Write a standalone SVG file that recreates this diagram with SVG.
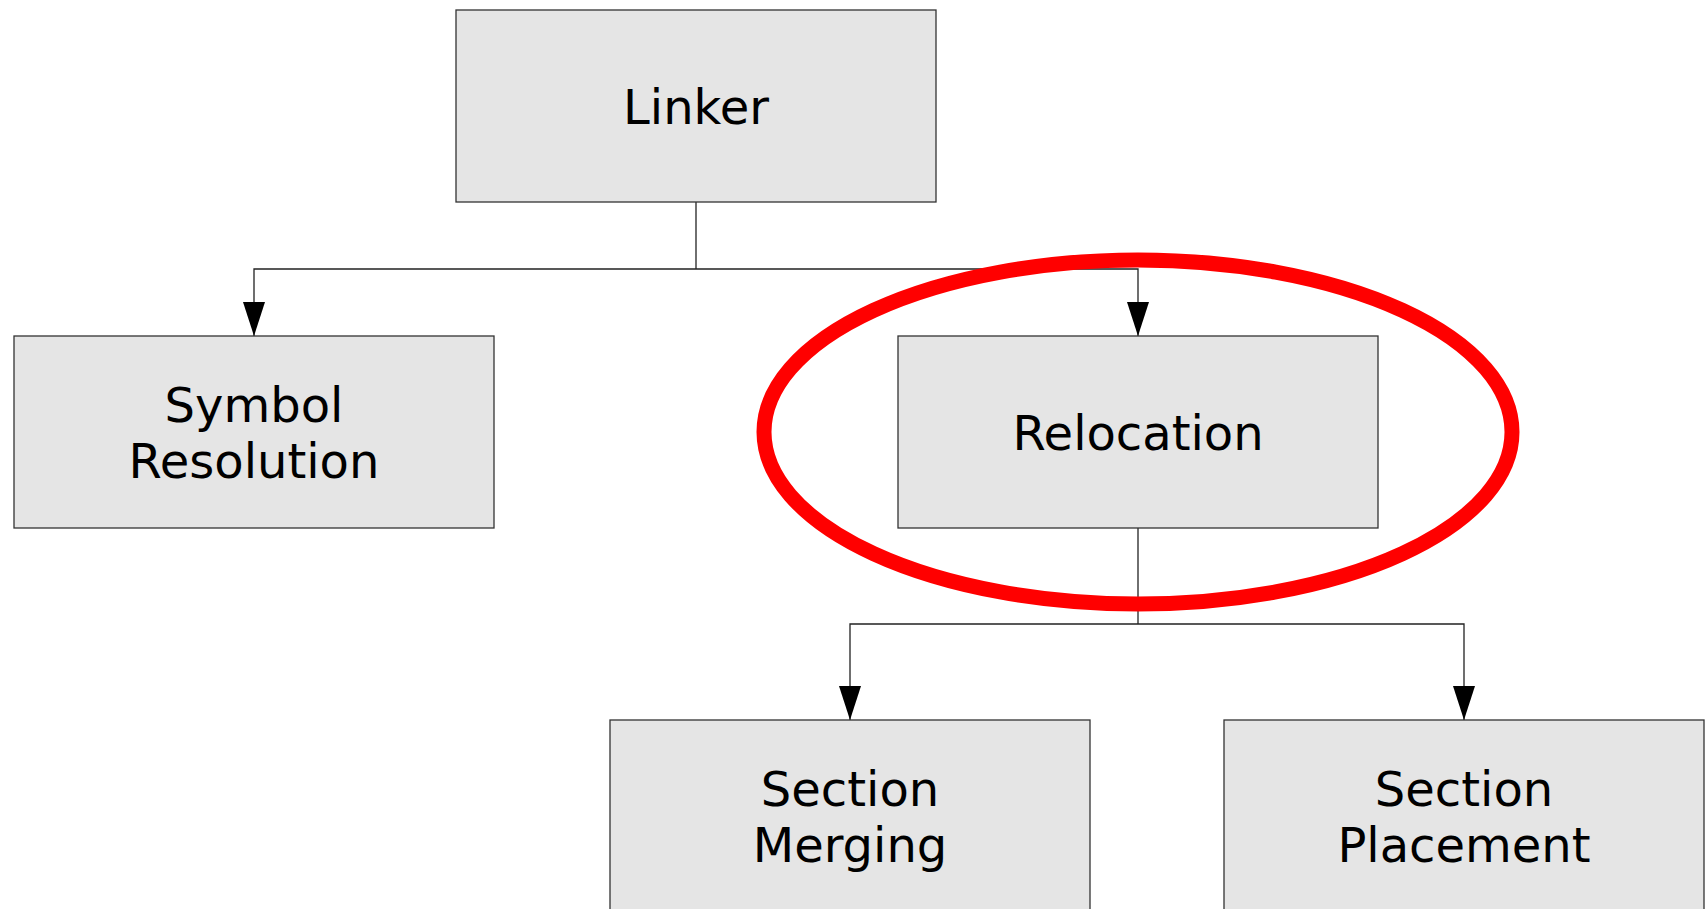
<svg xmlns="http://www.w3.org/2000/svg" width="1706" height="909" viewBox="0 0 1706 909">
  <style>
    .box { fill: #e5e5e5; stroke: #333333; stroke-width: 1.3; }
    .label { font-family: "DejaVu Sans", "Liberation Sans", sans-serif; font-size: 48px; fill: #000000; text-anchor: middle; }
    .wire { fill: none; stroke: #222222; stroke-width: 1.3; }
    .highlight { fill: none; stroke: #ff0000; stroke-width: 15; }
  </style>
  <defs>
    <marker id="arrow" markerUnits="userSpaceOnUse" markerWidth="34" markerHeight="22" refX="34" refY="11" orient="auto" viewBox="0 0 34 22">
      <path d="M0,0 L34,11 L0,22 Z" fill="#000000"/>
    </marker>
  </defs>
  <rect width="1706" height="909" fill="#ffffff"/>

  <g id="connectors">
    <path class="wire" d="M696,202 V269"/>
    <path class="wire" d="M696,269 H254 V336" marker-end="url(#arrow)"/>
    <path class="wire" d="M696,269 H1138 V336" marker-end="url(#arrow)"/>
    <path class="wire" d="M1138,528 V624"/>
    <path class="wire" d="M1138,624 H850 V720" marker-end="url(#arrow)"/>
    <path class="wire" d="M1138,624 H1464 V720" marker-end="url(#arrow)"/>
  </g>

  <g id="node-linker">
    <rect class="box" x="456" y="10" width="480" height="192"/>
    <text class="label" x="696" y="124">Linker</text>
  </g>

  <g id="node-symbol-resolution">
    <rect class="box" x="14" y="336" width="480" height="192"/>
    <text class="label" x="254" y="422">Symbol</text>
    <text class="label" x="254" y="478">Resolution</text>
  </g>

  <g id="node-relocation">
    <rect class="box" x="898" y="336" width="480" height="192"/>
    <text class="label" x="1138" y="450">Relocation</text>
  </g>

  <g id="node-section-merging">
    <rect class="box" x="610" y="720" width="480" height="192"/>
    <text class="label" x="850" y="806">Section</text>
    <text class="label" x="850" y="862">Merging</text>
  </g>

  <g id="node-section-placement">
    <rect class="box" x="1224" y="720" width="480" height="192"/>
    <text class="label" x="1464" y="806">Section</text>
    <text class="label" x="1464" y="862">Placement</text>
  </g>

  <g id="highlight">
    <ellipse class="highlight" cx="1138" cy="432" rx="374" ry="172"/>
  </g>
</svg>
